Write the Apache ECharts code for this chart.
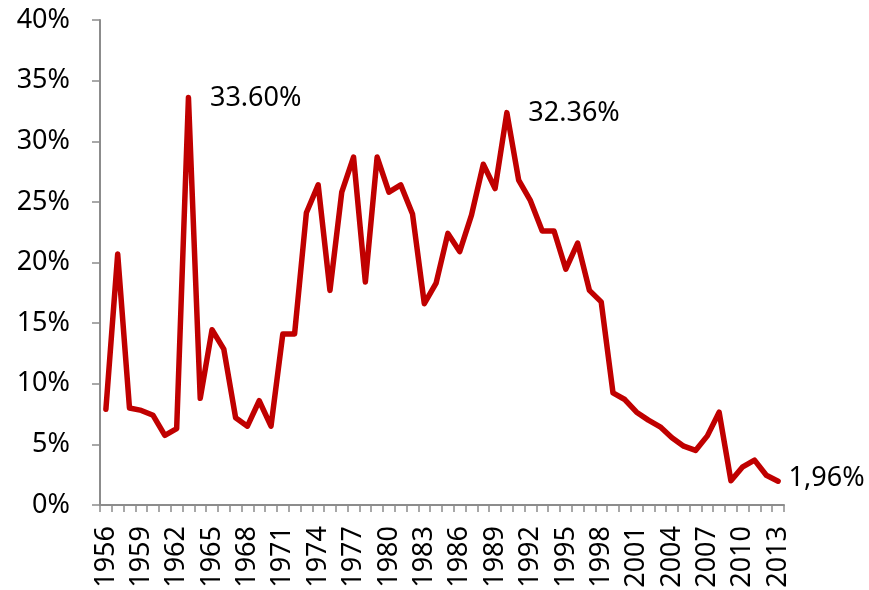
<!DOCTYPE html>
<html>
<head>
<meta charset="utf-8">
<script src="https://cdn.jsdelivr.net/npm/echarts@6/dist/echarts.min.js"></script>
<style>
  html, body { margin: 0; padding: 0; background: #fff; }
  #main { width: 869px; height: 590px; }
</style>
</head>
<body>
<div id="main"></div>
<script>
// 年份
var years = ['1956','1957','1958','1959','1960','1961','1962','1963','1964','1965',
    '1966','1967','1968','1969','1970','1971','1972','1973','1974','1975',
    '1976','1977','1978','1979','1980','1981','1982','1983','1984','1985',
    '1986','1987','1988','1989','1990','1991','1992','1993','1994','1995',
    '1996','1997','1998','1999','2000','2001','2002','2003','2004','2005',
    '2006','2007','2008','2009','2010','2011','2012','2013']

// 数值（%）
var values = [7.9, 20.7, 8.0, 7.8, 7.4, 5.75, 6.3, 33.6, 8.8, 14.45,
    12.85, 7.2, 6.5, 8.6, 6.5, 14.1, 14.1, 24.1, 26.4, 17.7,
    25.8, 28.7, 18.4, 28.7, 25.8, 26.4, 24.0, 16.6, 18.3, 22.4,
    20.9, 23.9, 28.1, 26.1, 32.36, 26.8, 25.1, 22.6, 22.6, 19.45,
    21.6, 17.7, 16.75, 9.25, 8.7, 7.65, 7.0, 6.45, 5.55, 4.85,
    4.5, 5.7, 7.65, 2.0, 3.15, 3.7, 2.45, 1.96]

// 标注
var noteYears = ['1963', '1990', '2013']
var noteTexts = ['33.60%', '32.36%', '1,96%']

var seriesData = values.map(function (v, i) {
    var k = noteYears.indexOf(years[i])
    if (k < 0) return v
    return {
        value: v,
        label: {
            show: true,
            position: 'right',
            distance: k === 2 ? 10 : 21,
            offset: k === 2 ? [0, -3] : [0, 1],
            formatter: noteTexts[k]
        }
    }
})

var font = '"Noto Sans", "DejaVu Sans", sans-serif'

var myChart = echarts.init(document.getElementById('main'))

var option = {
    animation: false,
    grid: {
        left: 100,
        right: 85,
        top: 20,
        bottom: 85,
        containLabel: false,
        outerBoundsMode: 'none'
    },
    xAxis: {
        type: 'category',
        data: years,
        boundaryGap: true,
        axisLine: { lineStyle: { color: '#8c8c8c', width: 2 } },
        axisTick: { show: true, interval: 0, length: 7, lineStyle: { color: '#8c8c8c', width: 1.5 } },
        axisLabel: {
            interval: 2,
            rotate: 90,
            margin: 21,
            color: '#000',
            fontSize: 27,
            fontFamily: font
        },
        splitLine: { show: false }
    },
    yAxis: {
        type: 'value',
        min: 0,
        max: 40,
        interval: 5,
        axisLine: { show: true, lineStyle: { color: '#8c8c8c', width: 2 } },
        axisTick: { show: true, length: 8, lineStyle: { color: '#8c8c8c', width: 1.5 } },
        axisLabel: {
            formatter: '{value}%',
            margin: 30,
            color: '#000',
            fontSize: 27,
            fontFamily: font
        },
        splitLine: { show: false }
    },
    series: [{
        type: 'line',
        data: seriesData,
        symbol: 'circle',
        symbolSize: 1,
        showSymbol: true,
        lineStyle: { color: '#C00000', width: 5.5, join: 'round', cap: 'round' },
        itemStyle: { color: '#C00000' },
        label: {
            show: false,
            color: '#000',
            fontSize: 27,
            fontFamily: font
        }
    }]
}

myChart.setOption(option)
</script>
</body>
</html>
